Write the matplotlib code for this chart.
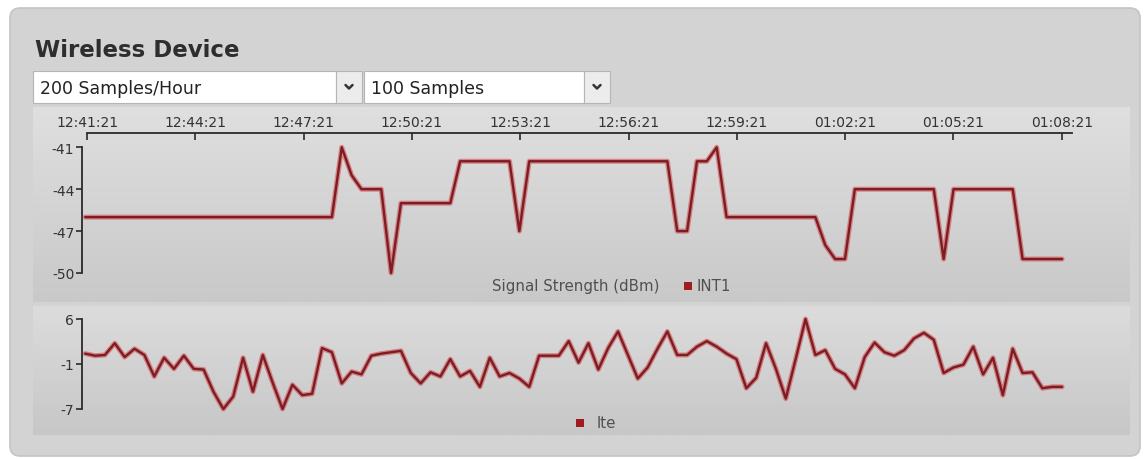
import numpy as np
import matplotlib
matplotlib.use("Agg")
import matplotlib.pyplot as plt
from matplotlib.patches import FancyBboxPatch, Rectangle

plt.rcParams['font.family'] = ['DejaVu Sans']
plt.rcParams['axes.unicode_minus'] = False

# ---------------- data ----------------
title = "Wireless Device"
rate_option = "200 Samples/Hour"
count_option = "100 Samples"

time_tick_labels = ["12:41:21", "12:44:21", "12:47:21", "12:50:21", "12:53:21",
                    "12:56:21", "12:59:21", "01:02:21", "01:05:21", "01:08:21"]
time_tick_step_min = 3          # minutes between labelled ticks
sample_start_s = -3.0           # first sample, seconds relative to 12:41:21
sample_step_s = 16.4            # seconds between samples

signal_title = "Signal Strength (dBm)"
signal_series = "INT1"
signal_values = [-46, -46, -46, -46, -46, -46, -46, -46, -46, -46,
                 -46, -46, -46, -46, -46, -46, -46, -46, -46, -46,
                 -46, -46, -46, -46, -46, -46, -41, -43, -44, -44,
                 -44, -50, -45, -45, -45, -45, -45, -45, -42, -42,
                 -42, -42, -42, -42, -47, -42, -42, -42, -42, -42,
                 -42, -42, -42, -42, -42, -42, -42, -42, -42, -42,
                 -47, -47, -42, -42, -41, -46, -46, -46, -46, -46,
                 -46, -46, -46, -46, -46, -48, -49, -49, -44, -44,
                 -44, -44, -44, -44, -44, -44, -44, -49, -44, -44,
                 -44, -44, -44, -44, -44, -49, -49, -49, -49, -49]

lte_series = "lte"
lte_values = [0.8, 0.5, 0.6, 2.3, 0.3, 1.5, 0.6, -2.5, 0.2, -1.4,
              0.5, -1.4, -1.5, -4.7, -7.2, -5.4, 0.2, -4.7, 0.6, -3.4,
              -7.2, -3.7, -5.2, -5.0, 1.6, 1.0, -3.5, -1.8, -2.2, 0.5,
              0.8, 1.0, 1.2, -2.0, -3.5, -1.9, -2.5, 0.0, -2.5, -1.7,
              -4.0, 0.2, -2.5, -2.0, -2.8, -4.0, 0.5, 0.5, 0.5, 2.6,
              -0.5, 2.3, -1.5, 1.6, 4.0, 0.6, -2.8, -1.2, 1.5, 4.0,
              0.6, 0.6, 1.8, 2.6, 1.8, 0.8, 0.0, -4.2, -2.7, 2.3,
              -1.4, -5.7, 0.0, 5.8, 0.6, 1.3, -1.4, -2.2, -4.2, 0.3,
              2.4, 1.0, 0.5, 1.3, 3.0, 3.8, 2.8, -2.0, -1.2, -0.8,
              1.8, -2.2, 0.2, -5.2, 1.5, -2.0, -1.9, -4.2, -4.0, -4.0]

# ---------------- figure ----------------
W, H = 1148, 460
fig = plt.figure(figsize=(W / 100, H / 100), dpi=100)
fig.patch.set_facecolor("white")


def px_axes(x0, y0, x1, y1, **kw):
    return fig.add_axes([x0 / W, 1 - y1 / H, (x1 - x0) / W, (y1 - y0) / H], **kw)


bg = px_axes(0, 0, W, H)
bg.set_xlim(0, W)
bg.set_ylim(H, 0)
bg.axis("off")

# outer rounded panel
bg.add_patch(FancyBboxPatch((10, 9), 1130, 448, boxstyle="round,pad=0,rounding_size=10",
                            fc="#d3d3d3", ec="#c4c4c4", lw=1.2, zorder=0))


def gradient_panel(x0, x1, y0, y1, c_top, c_bot):
    top = np.array(matplotlib.colors.to_rgb(c_top))
    bot = np.array(matplotlib.colors.to_rgb(c_bot))
    f = np.linspace(0, 1, 64)[:, None]
    img = (top[None, :] * (1 - f) + bot[None, :] * f)[:, None, :]
    bg.imshow(img, extent=(x0, x1, y1, y0), origin="upper", aspect="auto",
              interpolation="bilinear", zorder=1)


gradient_panel(33, 1130, 108, 303, "#dfdfdf", "#c9c9c9")
gradient_panel(33, 1130, 307, 436, "#dcdcdc", "#c7c7c7")
bg.set_xlim(0, W)
bg.set_ylim(H, 0)

# title
bg.text(35, 57, title, fontsize=16.5, fontweight="bold", color="#2e2e2e",
        va="baseline", ha="left", zorder=3)


# dropdowns
def dropdown(x0, x1, xc, label):
    bg.add_patch(Rectangle((x0, 72), x1 - x0, 32, fc="white", ec="#b5b5b5", lw=0.8, zorder=3))
    bg.add_patch(Rectangle((x1, 72), xc - x1, 32, fc="#ececec", ec="#b5b5b5", lw=0.8, zorder=3))
    cx = (x1 + xc) / 2
    bg.plot([cx - 3.5, cx, cx + 3.5], [86, 89.5, 86], color="#333333", lw=1.8,
            solid_capstyle="round", zorder=4)
    bg.text(x0 + 7, 89, label, fontsize=12.5, color="#222222", va="center", ha="left", zorder=4)


dropdown(33, 336, 362, rate_option)
dropdown(364, 584, 610, count_option)

# time axis geometry (pixels)
X_T0 = 87.0          # pixel of 12:41:21
PX_PER_MIN = 36.1
X_LEFT, X_RIGHT = 82.0, 1072.0


def t_of_px(px):
    return (px - X_T0) / PX_PER_MIN


times_min = (sample_start_s + sample_step_s * np.arange(len(signal_values))) / 60.0
tick_pos = [i * time_tick_step_min for i in range(len(time_tick_labels))]

# top time axis
tax = px_axes(X_T0, 134, X_RIGHT, 150)
tax.set_xlim(0, t_of_px(X_RIGHT))
tax.patch.set_alpha(0)
for s in ["left", "right", "bottom"]:
    tax.spines[s].set_visible(False)
tax.spines["top"].set_color("#2a2a2a")
tax.spines["top"].set_linewidth(1.3)
tax.set_yticks([])
tax.xaxis.set_ticks_position("top")
tax.xaxis.set_label_position("top")
tax.set_xticks(tick_pos)
tax.set_xticklabels(time_tick_labels)
tax.tick_params(axis="x", direction="in", length=5, width=1.2, color="#2a2a2a",
                labelsize=10, labelcolor="#333333", pad=3)

LINE_HALO = "#d84a4c"
LINE_CORE = "#7a1d24"
SQUARE = "#a01a1f"


def data_axes(y_top, y_bot, values, ticks, ticklabels):
    ax = px_axes(X_LEFT, y_top, X_RIGHT, y_bot)
    ax.patch.set_alpha(0)
    ax.set_xlim(t_of_px(X_LEFT), t_of_px(X_RIGHT))
    ax.set_ylim(min(values), max(values))
    for s in ["top", "right", "bottom"]:
        ax.spines[s].set_visible(False)
    ax.spines["left"].set_color("#2a2a2a")
    ax.spines["left"].set_linewidth(1.3)
    ax.set_xticks([])
    ax.set_yticks(ticks)
    ax.set_yticklabels(ticklabels)
    ax.tick_params(axis="y", direction="out", length=4, width=1.2, color="#2a2a2a",
                   labelsize=10, labelcolor="#333333", pad=1.5)
    ax.plot(times_min, values, color=LINE_HALO, lw=3.6, alpha=0.6, clip_on=False,
            solid_joinstyle="round", solid_capstyle="round", zorder=3)
    ax.plot(times_min, values, color=LINE_CORE, lw=1.7, clip_on=False,
            solid_joinstyle="round", solid_capstyle="round", zorder=4)
    return ax


# upper chart: ticks at the extent split in thirds
smin, smax = min(signal_values), max(signal_values)
sig_ticks = [smax - k * (smax - smin) / 3 for k in range(4)]
data_axes(148.3, 274, signal_values, sig_ticks, [f"{round(v)}" for v in sig_ticks])

# lower chart: ticks at min, mid, max
lmin, lmax = min(lte_values), max(lte_values)
lte_ticks = [lmax, (lmax + lmin) / 2, lmin]
data_axes(320, 410, lte_values, lte_ticks, [f"{round(v)}" for v in lte_ticks])

# legends
bg.text(660, 287, signal_title, fontsize=10.8, color="#505050", ha="right", va="center", zorder=4)
bg.add_patch(Rectangle((683.5, 283), 8, 8, fc=SQUARE, ec="none", zorder=4))
bg.text(697, 287, signal_series, fontsize=10.8, color="#505050", ha="left", va="center", zorder=4)

bg.add_patch(Rectangle((576, 420), 8, 8, fc=SQUARE, ec="none", zorder=4))
bg.text(597, 424, lte_series, fontsize=10.8, color="#505050", ha="left", va="center", zorder=4)

fig.savefig("out.png", dpi=100)
